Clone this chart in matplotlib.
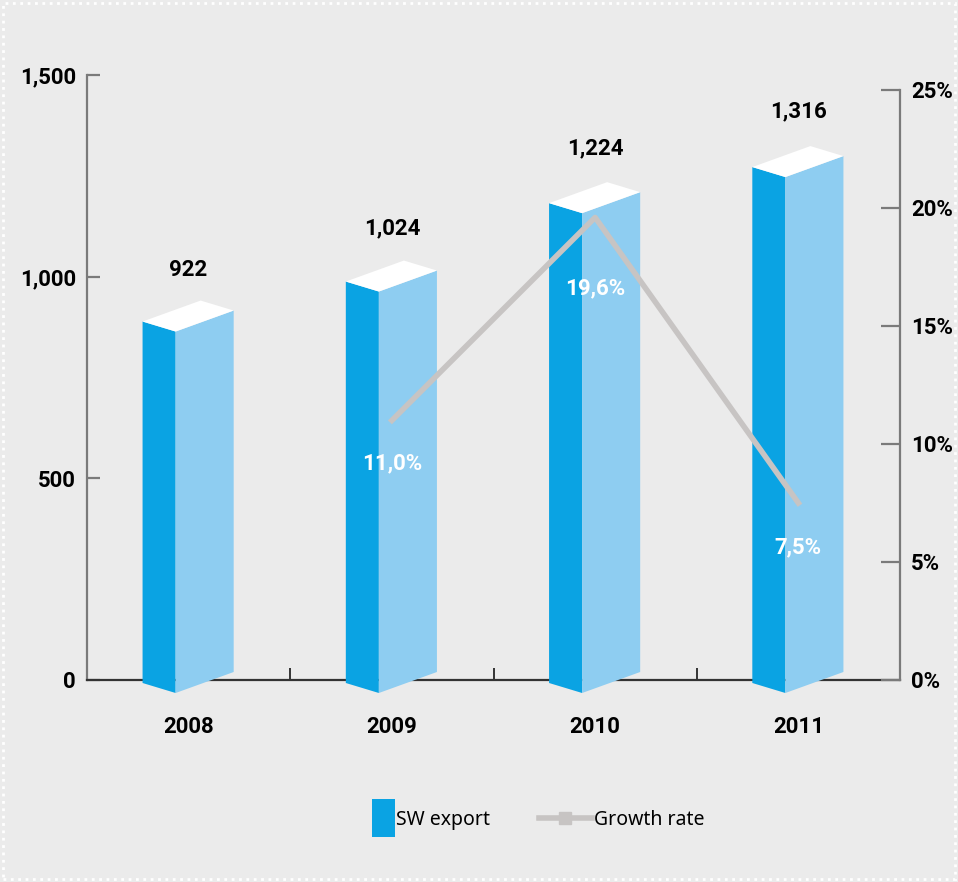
import numpy as np
import matplotlib
matplotlib.use('Agg')
import matplotlib.pyplot as plt
from matplotlib.patches import Polygon, Rectangle
from matplotlib.lines import Line2D
from matplotlib.legend_handler import HandlerPatch

#data
years=['2008','2009','2010','2011']
sw_export=[922,1024,1224,1316]
value_labels=['922','1,024','1,224','1,316']

growth_index=[1,2,3]
growth_rate=[11.0,19.6,7.5]
growth_labels=['11,0%','19,6%','7,5%']
growth_label_dy=[-1.8,-3.0,-1.9]

left_ticks=[0,500,1000,1500]
left_ticklabels=['0','500','1,000','1,500']
right_ticks=[0,5,10,15,20,25]
right_ticklabels=['0%','5%','10%','15%','20%','25%']

#colors
bg='#ebebeb'
dark_blue='#0aa3e3'
light_blue='#8ecdf1'
line_gray='#c7c4c3'

#tick and value font
tfont={'family':'Roboto','size':16,'weight':'bold'}

fig=plt.figure(figsize=(9.58,8.82),dpi=100,facecolor=bg)
ax=fig.add_axes([87/958,1-680/882,813/958,605/882])
ax.set_facecolor(bg)

ax.set_xlim(-0.5,3.5)
ax.set_ylim(0,1500)

#pixel -> data units
px_x=1/203
px_y=1500/605

def draw_box(ax,x,value):
    
    xl=x-46*px_x
    xc=x-13*px_x
    xr=x+45*px_x
    
    y_c0=-13*px_y
    y_l0=y_c0+10*px_y
    y_r0=y_c0+21*px_y
    
    h=value*0.972
    y_c1,y_l1,y_r1=y_c0+h,y_l0+h,y_r0+h
    
    #left (dark) face
    ax.add_patch(Polygon([(xl,y_l0),(xc,y_c0),(xc,y_c1),(xl,y_l1)],
                         closed=True,facecolor=dark_blue,edgecolor='none',
                         zorder=3,clip_on=False))
    #front (light) face
    ax.add_patch(Polygon([(xc,y_c0),(xr,y_r0),(xr,y_r1),(xc,y_c1)],
                         closed=True,facecolor=light_blue,edgecolor='none',
                         zorder=3,clip_on=False))
    #top face
    back=(xl+(xr-xc),y_l1+(y_r1-y_c1))
    ax.add_patch(Polygon([(xl,y_l1),(xc,y_c1),(xr,y_r1),back],
                         closed=True,facecolor='white',edgecolor='none',
                         zorder=3,clip_on=False))

for k in range(len(years)):
    
    draw_box(ax,k,sw_export[k])
    
    ax.text(k,sw_export[k]+95,value_labels[k],ha='center',va='center',
            color='black',zorder=5,**tfont)

#axes style
ax.spines['top'].set_visible(False)
ax.spines['right'].set_visible(False)
ax.spines['left'].set_color('#7a7a7a')
ax.spines['left'].set_linewidth(1.6)
ax.spines['bottom'].set_color('#333333')
ax.spines['bottom'].set_linewidth(1.6)

ax.set_yticks(left_ticks)
ax.set_yticklabels(left_ticklabels,**tfont)
ax.tick_params(axis='y',direction='in',length=9,width=1.6,color='#7a7a7a',pad=8)

ax.set_xticks(range(len(years)))
ax.set_xticklabels(years,**tfont)
ax.set_xticks([0.5,1.5,2.5],minor=True)
ax.tick_params(axis='x',which='major',length=0,pad=26)
ax.tick_params(axis='x',which='minor',direction='in',length=9,width=1.4,color='#333333')

#growth rate on right axis
ax2=ax.twinx()
ax2.set_ylim(0,25*605/590)
ax2.plot(growth_index,growth_rate,color=line_gray,lw=4,zorder=4,clip_on=False)

for k in range(len(growth_index)):
    
    ax2.text(growth_index[k],growth_rate[k]+growth_label_dy[k],growth_labels[k],
             ha='center',va='center',color='white',zorder=6,**tfont)

for side in ['top','left','bottom']:
    ax2.spines[side].set_visible(False)
ax2.spines['right'].set_color('#7a7a7a')
ax2.spines['right'].set_linewidth(1.6)
ax2.spines['right'].set_bounds(0,25)

ax2.set_yticks(right_ticks)
ax2.set_yticklabels(right_ticklabels,**tfont)
ax2.tick_params(axis='y',direction='in',length=14,width=1.6,color='#7a7a7a',pad=8)

#legend
def tall_box(legend,orig_handle,xdescent,ydescent,width,height,fontsize):
    w=1.18*fontsize
    h=1.95*fontsize
    return Rectangle((width-w-xdescent,height/2-h/2-ydescent),w,h)

handles=[Rectangle((0,0),1,1,facecolor=dark_blue,edgecolor='none'),
         Line2D([],[],color=line_gray,lw=4,marker='s',ms=9)]
fig.legend(handles,['SW export','Growth rate'],
           loc='center left',bbox_to_anchor=(342/958,1-820/882),
           ncol=2,frameon=False,handlelength=2.7,handletextpad=0.1,
           columnspacing=2.5,borderpad=0,borderaxespad=0,
           prop={'family':'Noto Sans','size':14},
           handler_map={Rectangle:HandlerPatch(patch_func=tall_box)})

#dotted frame
fig.patches.append(Rectangle((0.003,0.003),0.994,0.994,transform=fig.transFigure,
                             fill=False,edgecolor='white',lw=2,linestyle=':'))

fig.savefig('out.png',dpi=100,facecolor=bg)
